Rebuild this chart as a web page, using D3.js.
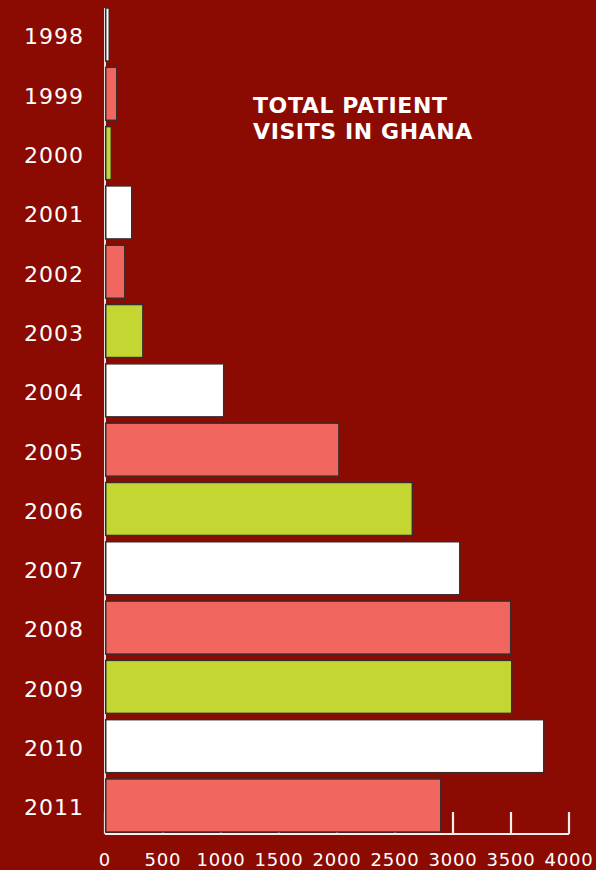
<!DOCTYPE html>
<html>
<head>
<meta charset="utf-8">
<script src="https://cdn.jsdelivr.net/npm/d3@7"></script>
<style>
	html, body { margin: 0; padding: 0; background: #8b0b02; }
	svg { display: block; }
	text { font-family: 'DejaVu Sans', sans-serif; fill: #fff; }
</style>
</head>
<body>
<svg width="596" height="870"></svg>
<script>
// Total patient visits in Ghana

var years = ['1998', '1999', '2000', '2001', '2002', '2003', '2004',
	'2005', '2006', '2007', '2008', '2009', '2010', '2011']
var visits = [30, 95, 48, 224, 164, 320, 1017, 2010, 2643, 3052, 3491, 3500, 3776, 2888]
var tickValues = [0, 500, 1000, 1500, 2000, 2500, 3000, 3500, 4000]
var colors = ['#ffffff', '#f26660', '#c3d631']

var svg = d3.select('svg')
var g = svg.append('g')

var x = d3.scaleLinear()
	.domain([0, 4000])
	.range([105, 569])

var y = d3.scaleBand()
	.domain(years)
	.range([8, 832])
	.paddingInner(0.106)
	.paddingOuter(0)

var baseY = 834

// bottom axis: ticks point up from the baseline
var axis = g.append('g')
	.attr('class', 'x-axis')

axis.selectAll('.tick')
	.data(tickValues)
	.enter()
	.append('line')
	.attr('x1', function(d) { return x(d) })
	.attr('x2', function(d) { return x(d) })
	.attr('y1', baseY)
	.attr('y2', baseY - 22)
	.attr('stroke', '#f4eeee')
	.attr('stroke-width', 2.2)

axis.append('line')
	.attr('x1', x(0))
	.attr('x2', x(4000))
	.attr('y1', baseY)
	.attr('y2', baseY)
	.attr('stroke', '#f4eeee')
	.attr('stroke-width', 2.2)

axis.selectAll('.tick-label')
	.data(tickValues)
	.enter()
	.append('text')
	.attr('class', 'tick-label')
	.attr('x', function(d) { return x(d) })
	.attr('y', 866)
	.attr('text-anchor', 'middle')
	.style('font-size', '18px')
	.style('letter-spacing', '0.8px')
	.text(function(d) { return d })

// left axis line
g.append('line')
	.attr('x1', x(0))
	.attr('x2', x(0))
	.attr('y1', 8)
	.attr('y2', baseY)
	.attr('stroke', '#e8e0e0')
	.attr('stroke-width', 2)

// bars
g.append('g')
	.attr('class', 'bars')
	.selectAll('rect')
	.data(visits)
	.enter()
	.append('rect')
	.attr('x', x(0) + 0.75)
	.attr('y', function(d, i) { return y(years[i]) })
	.attr('width', function(d) { return x(d) - x(0) })
	.attr('height', y.bandwidth())
	.attr('fill', function(d, i) { return colors[i % 3] })
	.attr('stroke', '#3a2c2c')
	.attr('stroke-width', 1.5)

// year labels
g.append('g')
	.attr('class', 'year-labels')
	.selectAll('text')
	.data(years)
	.enter()
	.append('text')
	.attr('x', 84)
	.attr('y', function(d) { return y(d) + y.bandwidth() / 2 + 2 })
	.attr('dy', '0.36em')
	.attr('text-anchor', 'end')
	.style('font-size', '22px')
	.style('letter-spacing', '1px')
	.text(function(d) { return d })

// title
var title = g.append('text')
	.attr('x', 253)
	.attr('y', 113)
	.style('font-size', '22px')
	.style('font-weight', 'bold')
	.style('letter-spacing', '0.6px')
title.append('tspan').attr('x', 253).text('TOTAL PATIENT')
title.append('tspan').attr('x', 253).attr('y', 139).text('VISITS IN GHANA')
</script>
</body>
</html>
